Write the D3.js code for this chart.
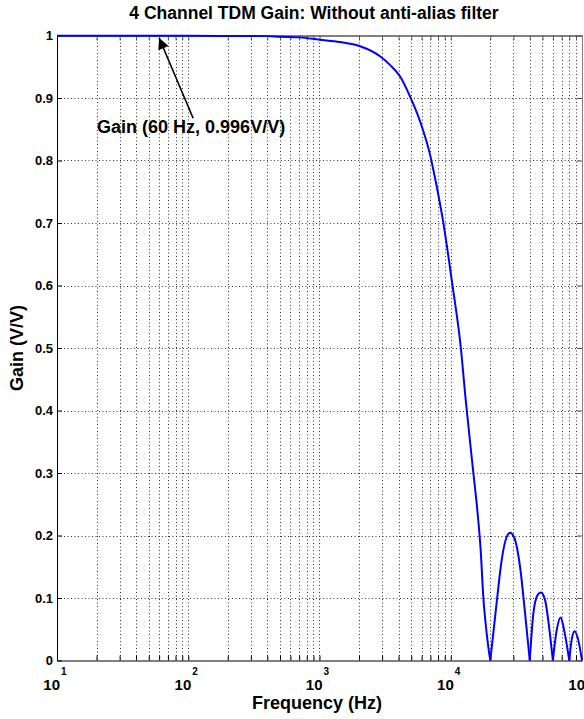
<!DOCTYPE html>
<html>
<head>
<meta charset="utf-8">
<script src="https://cdn.jsdelivr.net/npm/d3@7"></script>
<style>
  body { margin: 0; background: #fff; }
  text { font-family: "Liberation Sans", Arial, Helvetica, sans-serif; font-weight: bold; }
</style>
</head>
<body>
<div id="chart"></div>
<script>
// Frequency response (Hz, V/V)
const freqHz = [10, 20, 60, 100, 200, 400, 500, 710, 1000, 1430, 2040, 2890, 3440, 4100, 4890,
    5840, 6960, 7590, 8770, 10280, 11910, 13000, 14860, 15930, 16900, 17700, 18780, 20000,
    21100, 22630, 24450, 26680, 27700, 28620, 29700, 30900, 33730, 36840, 40000,
    42600, 45950, 48700, 52300, 56100, 60000, 64200, 68800, 73000, 80000,
    83400, 87900, 93600, 100000];
const gainVV = [0.9995, 0.9995, 0.9995, 0.9995, 0.9993, 0.999, 0.998, 0.997, 0.9933, 0.9896, 0.9827, 0.9667, 0.953, 0.9347, 0.9027,
    0.8627, 0.809, 0.772, 0.701, 0.602, 0.502, 0.417, 0.3005, 0.241, 0.177, 0.102, 0.0435, 0.0,
    0.0435, 0.102, 0.161, 0.198, 0.2035, 0.2045, 0.201, 0.193, 0.150, 0.0755, 0.0,
    0.0755, 0.105, 0.109, 0.097, 0.054, 0.0, 0.049, 0.069, 0.049, 0.0,
    0.033, 0.047, 0.033, 0.0];

const yTicks = [0, 0.1, 0.2, 0.3, 0.4, 0.5, 0.6, 0.7, 0.8, 0.9, 1];
const xDecades = [1, 2, 3, 4, 5];

// annotation: arrow from label to the 60 Hz point
const noteText = "Gain (60 Hz, 0.996V/V)";
const notePoint = [60, 0.996];
const noteTail = [109, 0.8675];
const noteLabel = [20.2, 0.844];

const W = 584, H = 719;
const plotL = 57, plotR = 582, plotT = 35.5, plotB = 660.5;

const svg = d3.select("#chart").append("svg")
    .attr("width", W)
    .attr("height", H);

svg.append("rect").attr("width", W).attr("height", H).attr("fill", "#fff");

const x = d3.scaleLog().domain([10, 1e5]).range([plotL, plotR]);
const y = d3.scaleLinear().domain([0, 1]).range([plotB, plotT]);

// grid (dotted, MATLAB style)
const xGrid = x.ticks().filter(d => d > 10 && d < 1e5);
svg.append("g").selectAll("line")
    .data(xGrid)
    .enter().append("line")
    .attr("x1", d => Math.round(x(d)) + 0.5)
    .attr("x2", d => Math.round(x(d)) + 0.5)
    .attr("y1", plotT)
    .attr("y2", plotB)
    .attr("stroke", "#333")
    .attr("stroke-dasharray", "1,2.5");

svg.append("g").selectAll("line")
    .data(yTicks.filter(d => d > 0 && d < 1))
    .enter().append("line")
    .attr("x1", plotL)
    .attr("x2", plotR)
    .attr("y1", d => Math.round(y(d)) + 0.5)
    .attr("y2", d => Math.round(y(d)) + 0.5)
    .attr("stroke", "#333")
    .attr("stroke-dasharray", "1,2.5");

// axes with inward ticks
svg.append("g")
    .attr("transform", "translate(0," + plotB + ")")
    .call(d3.axisBottom(x).tickSizeInner(-5).tickSizeOuter(0).tickFormat(""));
const xAxisT = svg.append("g")
    .attr("transform", "translate(0," + plotT + ")")
    .call(d3.axisTop(x).tickSizeInner(-5).tickSizeOuter(0).tickFormat(""));
svg.append("g")
    .attr("transform", "translate(" + plotL + ",0)")
    .call(d3.axisLeft(y).tickValues(yTicks).tickSizeInner(-5).tickSizeOuter(0).tickFormat(""));
const yAxisR = svg.append("g")
    .attr("transform", "translate(" + plotR + ",0)")
    .call(d3.axisRight(y).tickValues(yTicks).tickSizeInner(-5).tickSizeOuter(0).tickFormat(""));

xAxisT.select(".domain").attr("stroke", "#808080").attr("stroke-width", 2);
yAxisR.select(".domain").attr("stroke", "#808080");
xAxisT.selectAll(".tick line").attr("stroke", "#555");
yAxisR.selectAll(".tick line").attr("stroke", "#555");

// y tick labels
svg.append("g").selectAll("text")
    .data(yTicks)
    .enter().append("text")
    .attr("x", plotL - 4)
    .attr("y", d => y(d))
    .attr("dy", "0.36em")
    .attr("text-anchor", "end")
    .attr("font-size", "13px")
    .text(d => d3.format("~g")(d));

// x tick labels 10^n
const xl = svg.append("g").selectAll("g")
    .data(xDecades)
    .enter().append("g")
    .attr("transform", d => "translate(" + x(Math.pow(10, d)) + ",0)");
xl.append("text")
    .attr("x", 3)
    .attr("y", 690)
    .attr("text-anchor", "end")
    .attr("font-size", "15px")
    .text("10");
xl.append("text")
    .attr("x", 4)
    .attr("y", 675)
    .attr("font-size", "10px")
    .text(d => d);

// the gain curve, one smooth piece per lobe so the nulls stay sharp
const pts = freqHz.map((f, i) => [f, gainVV[i]]);
const lobes = [];
let cur = [];
pts.forEach((p, i) => {
    cur.push(p);
    if (p[1] === 0 && i > 0) {
        lobes.push(cur);
        cur = [p];
    }
});
if (cur.length > 1) lobes.push(cur);

const line = d3.line()
    .x(d => x(d[0]))
    .y(d => y(d[1]))
    .curve(d3.curveMonotoneX);

svg.append("g").selectAll("path")
    .data(lobes)
    .enter().append("path")
    .attr("fill", "none")
    .attr("stroke", "#0000ff")
    .attr("stroke-width", 2)
    .attr("stroke-linejoin", "round")
    .attr("d", line);

// annotation arrow
svg.append("defs").append("marker")
    .attr("id", "head")
    .attr("viewBox", "0 0 10 10")
    .attr("refX", 10)
    .attr("refY", 5)
    .attr("markerWidth", 12)
    .attr("markerHeight", 11)
    .attr("markerUnits", "userSpaceOnUse")
    .attr("orient", "auto")
    .append("path")
    .attr("d", "M0,0 L10,5 L0,10 Z")
    .attr("fill", "#000");

svg.append("line")
    .attr("x1", x(noteTail[0]))
    .attr("y1", y(noteTail[1]))
    .attr("x2", x(notePoint[0]))
    .attr("y2", y(notePoint[1]))
    .attr("stroke", "#000")
    .attr("stroke-width", 1.6)
    .attr("marker-end", "url(#head)");

svg.append("text")
    .attr("x", x(noteLabel[0]))
    .attr("y", y(noteLabel[1]))
    .attr("font-size", "18px")
    .text(noteText);

// title and axis labels
svg.append("text")
    .attr("x", 314)
    .attr("y", 19)
    .attr("text-anchor", "middle")
    .attr("font-size", "17.5px")
    .text("4 Channel TDM Gain: Without anti-alias filter");

svg.append("text")
    .attr("x", 317)
    .attr("y", 709)
    .attr("text-anchor", "middle")
    .attr("font-size", "18px")
    .text("Frequency (Hz)");

svg.append("text")
    .attr("transform", "translate(23,348) rotate(-90)")
    .attr("text-anchor", "middle")
    .attr("font-size", "18px")
    .text("Gain (V/V)");
</script>
</body>
</html>
